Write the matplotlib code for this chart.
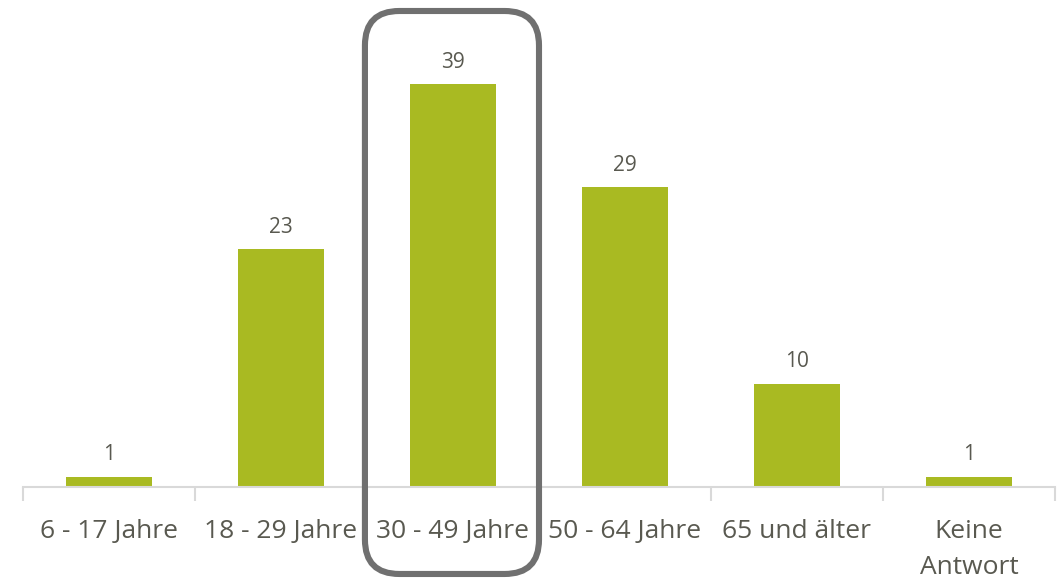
import matplotlib.pyplot as plt
from matplotlib.patches import FancyBboxPatch
import numpy as np

categories = ['6 - 17 Jahre', '18 - 29 Jahre', '30 - 49 Jahre',
              '50 - 64 Jahre', '65 und älter', 'Keine\nAntwort']
values = [1, 23, 39, 29, 10, 1]
highlight = 2

plt.rcParams['font.family'] = ['Open Sans', 'DejaVu Sans']
text_color = '#595950'
bar_color = '#A9BA22'

fig = plt.figure(figsize=(10.63, 5.79), dpi=100)
ax = fig.add_axes([23 / 1063, (579 - 487) / 579, 1032 / 1063, 487 / 579])

x = np.arange(len(categories))
bars = ax.bar(x, values, width=0.505, color=bar_color, zorder=2)
for xi, v in zip(x, values):
    ax.text(xi, v + 1.1, str(v), ha='center', va='bottom',
            fontsize=15, color=text_color)

ax.set_xlim(-0.5, len(categories) - 0.5)
ax.set_ylim(0, 487 / 10.33)
ax.set_yticks([])
for s in ['top', 'right', 'left']:
    ax.spines[s].set_visible(False)
ax.spines['bottom'].set_color('#d9d9d9')
ax.spines['bottom'].set_linewidth(1.5)

# category boundaries as tick marks
ax.set_xticks(np.arange(-0.5, len(categories)), minor=False)
ax.set_xticklabels([])
ax.tick_params(axis='x', which='major', length=10, width=1.5,
               color='#d9d9d9')
ax.set_xticks(x, minor=True)
ax.set_xticklabels(categories, minor=True, fontsize=19, color=text_color,
                   linespacing=1.6, va='top')
ax.tick_params(axis='x', which='minor', length=0, pad=23)

# rounded highlight frame (x in category units, y in value units)
box = FancyBboxPatch((highlight - 0.512, -8.42), 1.012, 54.5,
                     boxstyle='round,pad=0,rounding_size=0.2',
                     mutation_aspect=172 / 10.33,
                     fill=False, edgecolor='#707070', linewidth=4.4,
                     clip_on=False, zorder=3)
ax.add_patch(box)

fig.savefig('out.png', dpi=100)
